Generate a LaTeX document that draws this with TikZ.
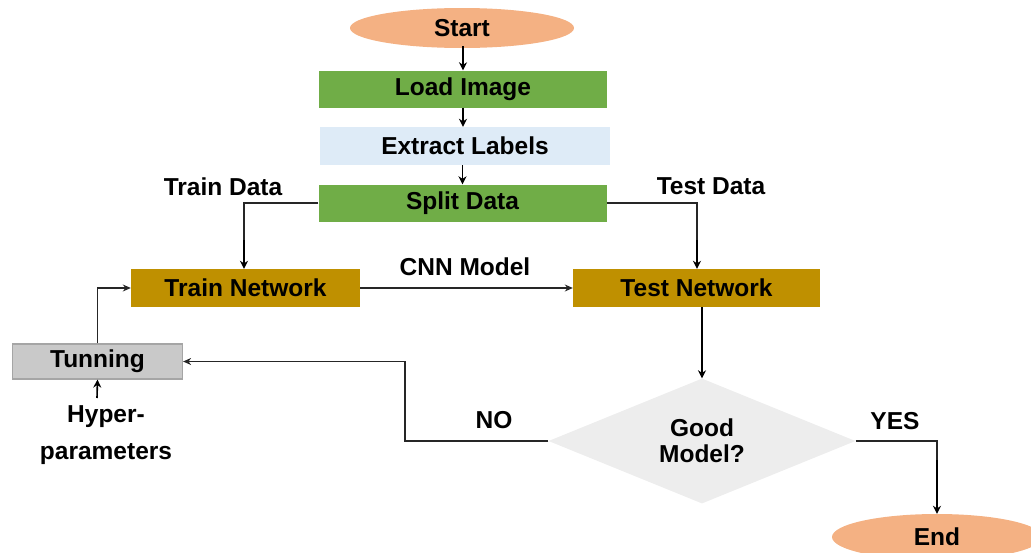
\documentclass[tikz,border=0pt]{standalone}
\usepackage{fontspec}
\setmainfont{Liberation Sans}
\usetikzlibrary{shapes.geometric,arrows.meta}
\definecolor{cgreen}{HTML}{70AD47}
\definecolor{cblue}{HTML}{DEEBF7}
\definecolor{cgold}{HTML}{BF9000}
\definecolor{cgray}{HTML}{C9C9C9}
\definecolor{cgrayb}{HTML}{A5A5A5}
\definecolor{cdia}{HTML}{EDEDED}
\definecolor{corange}{HTML}{F4B183}
\tikzset{
  txt/.style={font=\fontsize{24.5}{27}\selectfont\bfseries, text=black},
  oval/.style={ellipse, fill=corange, minimum width=224pt, minimum height=40pt, inner sep=0pt, txt},
  boxg/.style={rectangle, fill=cgreen, minimum width=288pt, minimum height=37pt, inner sep=0pt, txt},
  boxb/.style={rectangle, fill=cblue, minimum width=290pt, minimum height=38pt, inner sep=0pt, txt},
  boxo/.style={rectangle, fill=cgold, minimum height=38pt, inner sep=0pt, txt},
  boxt/.style={rectangle, fill=cgray, draw=cgrayb, line width=1.2pt, minimum width=170pt, minimum height=35pt, inner sep=0pt, txt},
  dec/.style={diamond, fill=cdia, minimum width=307pt, minimum height=125pt, inner sep=0pt, aspect=2.45, txt, align=center},
  lbl/.style={txt, inner sep=0pt},
  arr/.style={-{Stealth[length=8pt,width=8pt]}, line width=1.6pt, black},
  arrt/.style={-{Stealth[length=8pt,width=7pt]}, line width=1.1pt, black!85},
  ln/.style={line width=1.1pt, black!85}
}
\begin{document}
\begin{tikzpicture}[x=1pt,y=-1pt]
\useasboundingbox (0,0) rectangle (1031,552);
\clip (0,0) rectangle (1031,552);
\node[oval] (start) at (462,28) {Start};
\node[boxg] (load) at (463,89) {Load Image};
\node[boxb] (extract) at (465,146) {Extract Labels};
\node[boxg] (split) at (462.5,203) {Split Data};
\node[boxo, minimum width=229pt] (train) at (245.5,288) {Train Network};
\node[boxo, minimum width=247pt] (test) at (696.5,288) {Test Network};
\node[boxt] (tun) at (97.5,361.5) {Tunning};
\node[dec] (good) at (702,441) {Good\\[-1pt]Model?};
\node[oval, minimum width=210pt, minimum height=46pt] (end) at (937,537) {End};

\node[lbl] (ltrain) at (223,187) {Train Data};
\node[lbl] (ltest) at (711,186) {Test Data};
\node[lbl] (lcnn) at (465,267) {CNN Model};
\node[lbl] (lno) at (494,420) {NO};
\node[lbl] (lyes) at (895,421) {YES};
\node[lbl, align=center] (hyper) at (106,435) {Hyper-\\[10pt]parameters};

\draw[arr] ([yshift=2pt]start.south -| load.north) -- (load.north);
\draw[arr] (load.south) -- (extract.north -| load.south);
\draw[arr] (extract.south -| split.north) -- (split.north);
\draw[ln] (split.west) -| (244,250);
\draw[arr] (244,240) -- (train.north -| 244,0);
\draw[ln] (split.east) -| (697,250);
\draw[arr] (697,240) -- (test.north -| 697,0);
\draw[arrt] (train.east) -- (test.west);
\draw[arr] (test.south -| good.north) -- (good.north);
\draw[arrt] (good.west) -- (405,441) |- (tun.east);
\draw[ln] (good.east) -| (937,470);
\draw[arr] (937,460) -- (end.north);
\draw[arrt] (tun.north) |- (train.west);
\coordinate (hy) at (97,398);
\draw[arr] (hy) -- (tun.south);
\end{tikzpicture}
\end{document}
